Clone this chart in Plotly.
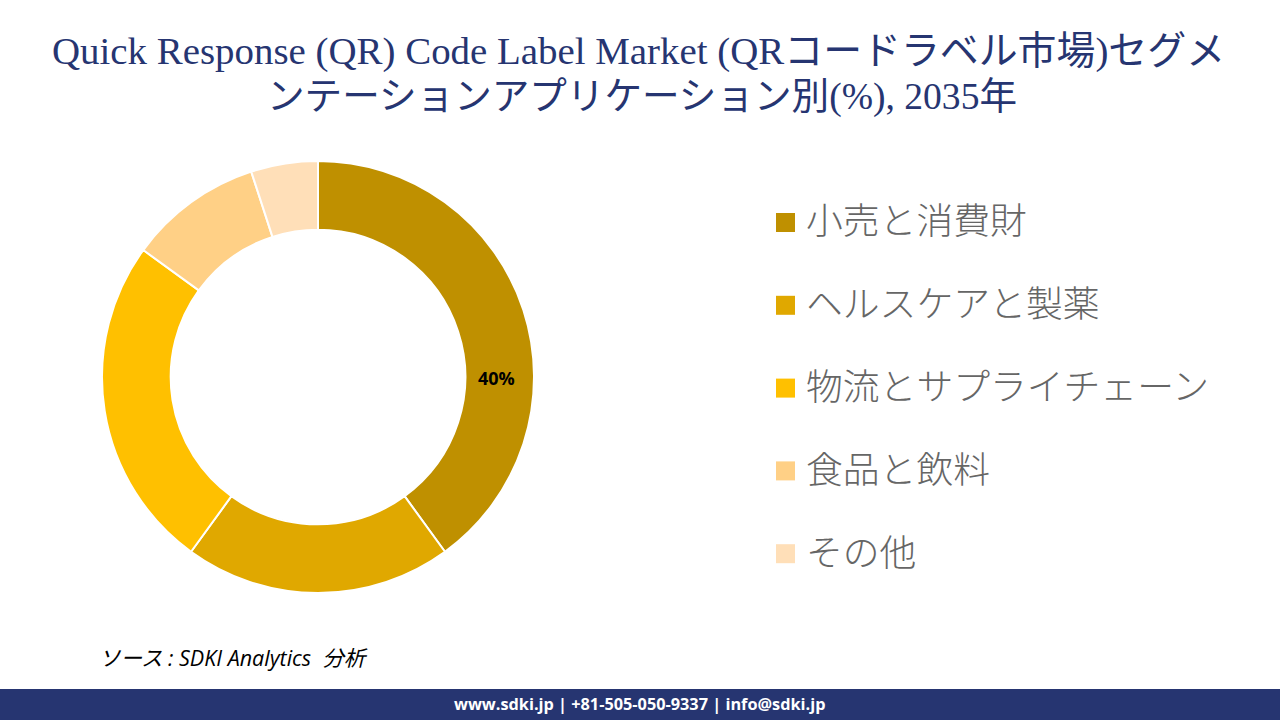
import plotly.graph_objects as go

W, H = 1280, 720

categories = ["小売と消費財", "ヘルスケアと製薬", "物流とサプライチェーン", "食品と飲料", "その他"]
values = [40, 20, 25, 10, 5]
colors = ["#BF9000", "#E0A800", "#FFC000", "#FFD086", "#FFDFB8"]
title_line_1 = "Quick Response (QR) Code Label Market (QRコードラベル市場)セグメ"
title_line_2 = "ンテーションアプリケーション別(%), 2035年"
source_text = "ソース : SDKI Analytics  分析"
footer_text = "www.sdki.jp | +81-505-050-9337 | info@sdki.jp"
value_label = "40%"

NAVY = "#263571"
SERIF = "Liberation Serif, Noto Sans CJK JP, serif"
SANS = "Open Sans, Noto Sans CJK JP, sans-serif"
LEGEND_FONT = "Noto Sans CJK JP, sans-serif"


def px(x):
    return x / W


def py(y):
    return 1 - y / H


fig = go.Figure(
    go.Pie(
        labels=categories,
        values=values,
        hole=0.682,
        sort=False,
        direction="clockwise",
        rotation=0,
        textinfo="none",
        showlegend=False,
        marker=dict(colors=colors, line=dict(color="white", width=2)),
        domain=dict(x=[px(102), px(534)], y=[py(593), py(161)]),
    )
)

annotations = [
    dict(x=px(638.5), y=py(51), text=title_line_1, showarrow=False, xanchor="center", yanchor="middle",
         font=dict(family=SERIF, size=38.9, color=NAVY), align="center"),
    dict(x=px(642), y=py(97), text=title_line_2, showarrow=False, xanchor="center", yanchor="middle",
         font=dict(family=SERIF, size=37.6, color=NAVY), align="center"),
    dict(x=px(496.5), y=py(378), text=f"<b>{value_label}</b>", showarrow=False,
         xanchor="center", yanchor="middle",
         font=dict(family=SANS, size=18, color="black")),
    dict(x=px(97), y=py(657), text=f"<i>{source_text}</i>", showarrow=False, xanchor="left", yanchor="middle",
         font=dict(family=SANS, size=21.5, color="black")),
    dict(x=px(639), y=py(704), text=f"<b>{footer_text}</b>", showarrow=False,
         xanchor="center", yanchor="middle",
         font=dict(family=SANS, size=16.3, color="white")),
]
shapes = [
    dict(type="rect", xref="paper", yref="paper", x0=0, x1=1, y0=0, y1=py(689),
         fillcolor=NAVY, line=dict(width=0), layer="below"),
]

for i, (name, color) in enumerate(zip(categories, colors)):
    cy = 222.5 + i * 82.8
    shapes.append(dict(type="rect", xref="paper", yref="paper", x0=px(776), x1=px(795),
                       y0=py(cy + 9.5), y1=py(cy - 9.5), fillcolor=color, line=dict(width=0)))
    annotations.append(dict(x=px(804), y=py(cy - 4), text=name, showarrow=False,
                            xanchor="left", yanchor="middle",
                            font=dict(family=LEGEND_FONT, size=36.8, weight=300, color="#666666")))

fig.update_layout(
    width=W, height=H, autosize=False,
    margin=dict(l=0, r=0, t=0, b=0),
    paper_bgcolor="white",
    annotations=annotations,
    shapes=shapes,
)
fig.write_html(
    "out.html",
    config=dict(displayModeBar=False),
    post_script="document.body.style.margin='0';document.documentElement.style.overflow='hidden';",
)
